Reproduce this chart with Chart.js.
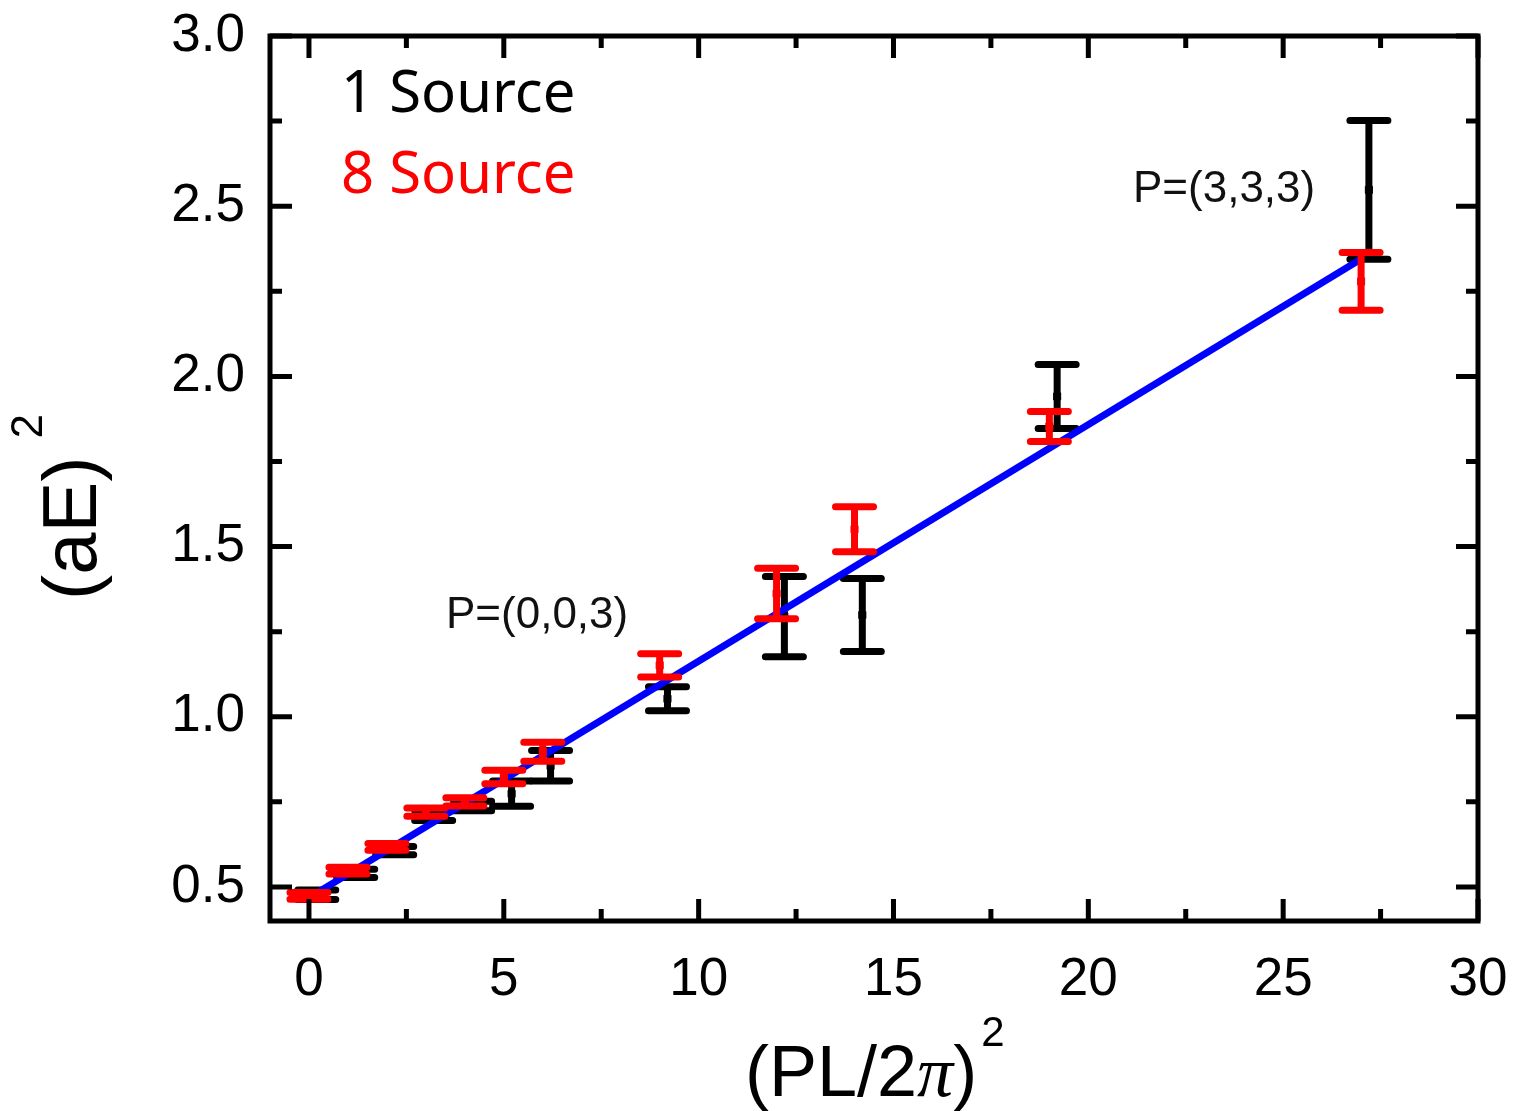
<!DOCTYPE html>
<html>
<head>
<meta charset="utf-8">
<script src="https://cdn.jsdelivr.net/npm/chart.js@4.4.1/dist/chart.umd.min.js"></script>
<style>
    html, body { margin: 0; padding: 0; background: #fff; }
    #wrap { width: 1518px; height: 1111px; }
</style>
</head>
<body>
<div id="wrap"><canvas id="dispersionChart" width="1518" height="1111"></canvas></div>
<script>
// Single-source data: (PL/2pi)^2, (aE)^2 and its error
const oneSourceX = [0.2, 1.2, 2.2, 3.2, 4.2, 5.2, 6.2, 9.2, 12.2, 14.2, 19.2, 27.2];
const oneSourceY = [0.477, 0.540, 0.607, 0.710, 0.738, 0.774, 0.856, 1.053, 1.294, 1.299, 1.941, 2.548];
const oneSourceErr = [0.014, 0.012, 0.012, 0.015, 0.014, 0.037, 0.045, 0.035, 0.118, 0.107, 0.094, 0.204];

// Eight-source data
const eightSourceX = [0, 1, 2, 3, 4, 5, 6, 9, 12, 14, 19, 27];
const eightSourceY = [0.474, 0.548, 0.618, 0.720, 0.750, 0.823, 0.897, 1.151, 1.362, 1.551, 1.853, 2.279];
const eightSourceErr = [0.010, 0.010, 0.010, 0.012, 0.012, 0.020, 0.028, 0.034, 0.074, 0.066, 0.044, 0.085];

// Linear dispersion fit
const fitX = [0, 27];
const fitY = [0.468, 2.345];

// Axis ticks (majors get a label)
const xTicks = [0, 2.5, 5, 7.5, 10, 12.5, 15, 17.5, 20, 22.5, 25, 27.5, 30];
const yTicks = [0.5, 0.75, 1.0, 1.25, 1.5, 1.75, 2.0, 2.25, 2.5, 2.75, 3.0];

const AXIS_FONT = "'Liberation Sans', Arial, sans-serif";

function isMajorX(v) { return v % 5 === 0; }
function isMajorY(v) { return Math.abs(v * 2 - Math.round(v * 2)) < 1e-6; }

// Vertical error bars with caps, drawn right after their dataset
const errorBarPlugin = {
    id: 'errorBars',
    afterDatasetDraw(chart, args) {
        const ds = chart.data.datasets[args.index];
        if (!ds.errors) return;
        const xs = chart.scales.x, ys = chart.scales.y;
        const ctx = chart.ctx;
        ctx.save();
        ctx.strokeStyle = ds.borderColor;
        ctx.lineWidth = 7;
        ctx.lineCap = 'round';
        ds.data.forEach((p, i) => {
            const px = xs.getPixelForValue(p.x);
            const top = ys.getPixelForValue(p.y + ds.errors[i]);
            const bot = ys.getPixelForValue(p.y - ds.errors[i]);
            ctx.beginPath();
            ctx.moveTo(px, top); ctx.lineTo(px, bot);
            ctx.moveTo(px - 19, top); ctx.lineTo(px + 19, top);
            ctx.moveTo(px - 19, bot); ctx.lineTo(px + 19, bot);
            ctx.stroke();
        });
        ctx.restore();
    }
};

// Box frame with inward ticks on all four sides, plus titles and notes
const framePlugin = {
    id: 'frame',
    afterDraw(chart) {
        const { ctx, chartArea: a } = chart;
        const xs = chart.scales.x, ys = chart.scales.y;
        ctx.save();
        ctx.strokeStyle = '#000';
        ctx.lineWidth = 5;
        ctx.lineCap = 'butt';

        ctx.beginPath();
        xTicks.forEach(v => {
            const px = xs.getPixelForValue(v);
            const len = isMajorX(v) ? 22 : 12;
            ctx.moveTo(px, a.bottom); ctx.lineTo(px, a.bottom - len);
            ctx.moveTo(px, a.top); ctx.lineTo(px, a.top + len);
        });
        yTicks.forEach(v => {
            const py = ys.getPixelForValue(v);
            const len = isMajorY(v) ? 22 : 12;
            ctx.moveTo(a.left, py); ctx.lineTo(a.left + len, py);
            ctx.moveTo(a.right, py); ctx.lineTo(a.right - len, py);
        });
        ctx.stroke();
        ctx.strokeRect(a.left, a.top, a.right - a.left, a.bottom - a.top);

        // legend-style labels
        ctx.textBaseline = 'alphabetic';
        ctx.textAlign = 'left';
        ctx.font = "58px 'Noto Sans', sans-serif";
        ctx.fillStyle = '#000';
        ctx.fillText('1 Source', 341, 112);
        ctx.fillStyle = '#ff0000';
        ctx.fillText('8 Source', 341, 193);

        // momentum notes
        ctx.fillStyle = '#111';
        ctx.font = '44px ' + AXIS_FONT;
        ctx.fillText('P=(0,0,3)', 446, 628);
        ctx.fillText('P=(3,3,3)', 1133, 202);

        // x title: (PL/2π)²
        ctx.fillStyle = '#000';
        let tx = 745;
        const ty = 1096;
        ctx.font = '72px ' + AXIS_FONT;
        ctx.fillText('(PL/2', tx, ty);
        tx += ctx.measureText('(PL/2').width;
        ctx.font = "italic 72px 'Liberation Serif', serif";
        ctx.fillText('π', tx, ty);
        tx += ctx.measureText('π').width;
        ctx.font = '72px ' + AXIS_FONT;
        ctx.fillText(')', tx, ty);
        tx += ctx.measureText(')').width;
        ctx.font = '42px ' + AXIS_FONT;
        ctx.fillText('2', tx + 4, ty - 50);

        // y title: (aE)², rotated
        ctx.save();
        ctx.translate(96, 600);
        ctx.rotate(-Math.PI / 2);
        ctx.font = '76px ' + AXIS_FONT;
        ctx.fillText('(aE)', 0, 0);
        const w = ctx.measureText('(aE)').width;
        ctx.font = '44px ' + AXIS_FONT;
        ctx.fillText('2', w + 18, -54);
        ctx.restore();

        ctx.restore();
    }
};

function makePoints(xs, ys) {
    return xs.map((x, i) => ({ x: x, y: ys[i] }));
}

const ctx = document.getElementById('dispersionChart').getContext('2d');
new Chart(ctx, {
    type: 'scatter',
    data: {
        datasets: [
            {
                label: '8 Source',
                data: makePoints(eightSourceX, eightSourceY),
                errors: eightSourceErr,
                borderColor: '#ff0000',
                backgroundColor: '#ff0000',
                pointStyle: 'rect',
                pointRadius: 5,
                borderWidth: 1,
                order: 1
            },
            {
                label: 'fit',
                data: makePoints(fitX, fitY),
                borderColor: '#0000ff',
                backgroundColor: '#0000ff',
                borderWidth: 7,
                pointRadius: 0,
                showLine: true,
                order: 2
            },
            {
                label: '1 Source',
                data: makePoints(oneSourceX, oneSourceY),
                errors: oneSourceErr,
                borderColor: '#000000',
                backgroundColor: '#000000',
                pointStyle: 'rect',
                pointRadius: 5,
                borderWidth: 1,
                order: 3
            }
        ]
    },
    options: {
        responsive: false,
        animation: false,
        layout: { padding: { top: 36, right: 40, left: 0, bottom: 0 } },
        plugins: {
            legend: { display: false },
            tooltip: { enabled: false }
        },
        scales: {
            x: {
                type: 'linear',
                min: -1,
                max: 30,
                afterBuildTicks: (scale) => { scale.ticks = xTicks.map(v => ({ value: v })); },
                afterFit: (scale) => {
                    scale.height = 190;
                    scale.paddingLeft = 0;
                    scale.paddingRight = 0;
                },
                grid: { display: false, drawTicks: false },
                border: { display: false },
                ticks: {
                    color: '#000',
                    font: { family: AXIS_FONT, size: 53 },
                    padding: 28,
                    maxRotation: 0,
                    autoSkip: false,
                    callback: (v) => isMajorX(v) ? String(v) : ''
                }
            },
            y: {
                type: 'linear',
                min: 0.4,
                max: 3.0,
                afterBuildTicks: (scale) => { scale.ticks = yTicks.map(v => ({ value: v })); },
                afterFit: (scale) => {
                    scale.width = 270;
                    scale.paddingTop = 0;
                    scale.paddingBottom = 0;
                },
                grid: { display: false, drawTicks: false },
                border: { display: false },
                ticks: {
                    color: '#000',
                    font: { family: AXIS_FONT, size: 53 },
                    padding: 25,
                    autoSkip: false,
                    callback: (v) => isMajorY(v) ? v.toFixed(1) : ''
                }
            }
        }
    },
    plugins: [errorBarPlugin, framePlugin]
});
</script>
</body>
</html>
